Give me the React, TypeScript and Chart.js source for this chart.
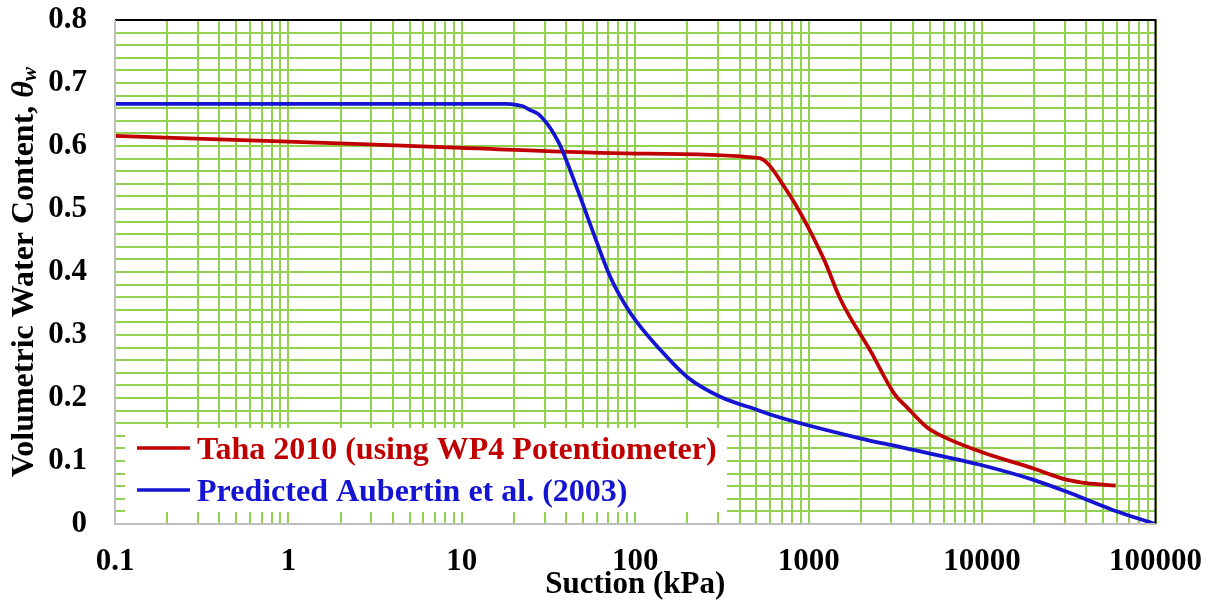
import React, { useEffect, useRef } from 'react';
import { Chart, registerables } from 'chart.js';

Chart.register(...registerables);

// ---- Data ----
const tahaSuction = [0.1, 1, 10, 100, 513, 741, 1216, 1517, 2300, 3150, 3670, 4790, 5730, 9730, 19800, 26900, 31000, 39800, 58900];
const tahaTheta = [0.616, 0.607, 0.597, 0.588, 0.581, 0.531, 0.422, 0.358, 0.272, 0.205, 0.186, 0.154, 0.141, 0.115, 0.088, 0.075, 0.07, 0.065, 0.061];

const aubertinSuction = [0.1, 1, 10, 18, 21, 22.5, 24.8, 27.5, 31.1, 34, 37, 47, 56.5, 71.8, 93.7, 140, 200, 309, 507, 684, 1977, 3390, 9730, 19800, 30800, 57100, 100000];
const aubertinTheta = [0.667, 0.667, 0.667, 0.667, 0.665, 0.663, 0.657, 0.651, 0.635, 0.619, 0.6, 0.527, 0.467, 0.392, 0.335, 0.276, 0.233, 0.202, 0.181, 0.169, 0.136, 0.122, 0.094, 0.07, 0.051, 0.022, 0];

const xMajorTicks = [0.1, 1, 10, 100, 1000, 10000, 100000];
const xTickLabels = ['0.1', '1', '10', '100', '1000', '10000', '100000'];
const xMinorMultipliers = [2, 3, 4, 5, 6, 7, 8, 9];

const yMajorTicks = [0, 0.1, 0.2, 0.3, 0.4, 0.5, 0.6, 0.7, 0.8];
const yTickLabels = ['0', '0.1', '0.2', '0.3', '0.4', '0.5', '0.6', '0.7', '0.8'];
const yMinorPerMajor = 5;

const seriesNames = ['Taha 2010 (using WP4 Potentiometer)', 'Predicted Aubertin et al. (2003)'];
const xTitle = 'Suction (kPa)';
const yTitleMain = 'Volumetric Water Content, ';
const yTitleSymbol = 'θ';
const yTitleSub = 'w';

// ---- Styles ----
const RED = '#C00000';
const BLUE = '#1414D2';
const GRID = '#92D050';
const FONT = '"Liberation Serif", "Times New Roman", serif';

const xGridValues: number[] = [];
xMajorTicks.forEach((m, i) => {
  xGridValues.push(m);
  if (i < xMajorTicks.length - 1) xMinorMultipliers.forEach((k) => xGridValues.push(+(m * k).toPrecision(6)));
});
const yGridValues: number[] = [];
yMajorTicks.forEach((m, i) => {
  yGridValues.push(m);
  if (i < yMajorTicks.length - 1) {
    const step = (yMajorTicks[i + 1] - m) / yMinorPerMajor;
    for (let k = 1; k < yMinorPerMajor; k++) yGridValues.push(+(m + k * step).toFixed(4));
  }
});

const decorPlugin = {
  id: 'decor',
  afterDatasetsDraw(chart: any) {
    const ctx = chart.ctx as CanvasRenderingContext2D;
    // legend box
    ctx.save();
    ctx.fillStyle = '#ffffff';
    ctx.fillRect(125, 428, 602, 84);
    const rows = [
      { y: 448, color: RED, text: seriesNames[0] },
      { y: 490, color: BLUE, text: seriesNames[1] },
    ];
    ctx.font = `bold 32px ${FONT}`;
    ctx.textBaseline = 'alphabetic';
    ctx.textAlign = 'left';
    rows.forEach((r) => {
      ctx.strokeStyle = r.color;
      ctx.lineWidth = 3.5;
      ctx.beginPath();
      ctx.moveTo(137, r.y);
      ctx.lineTo(190, r.y);
      ctx.stroke();
      ctx.fillStyle = r.color;
      ctx.fillText(r.text, 197, r.y + 11);
    });
    ctx.restore();
  },
  afterDraw(chart: any) {
    const ctx = chart.ctx as CanvasRenderingContext2D;
    const a = chart.chartArea;
    ctx.save();
    // borders
    ctx.lineWidth = 2;
    ctx.strokeStyle = '#000000';
    ctx.beginPath();
    ctx.moveTo(a.left, a.top);
    ctx.lineTo(a.right, a.top);
    ctx.lineTo(a.right, a.bottom);
    ctx.stroke();
    ctx.strokeStyle = '#BFBFBF';
    ctx.beginPath();
    ctx.moveTo(a.left, a.top);
    ctx.lineTo(a.left, a.bottom);
    ctx.lineTo(a.right, a.bottom);
    ctx.stroke();

    // x title
    ctx.fillStyle = '#000000';
    ctx.font = `bold 31px ${FONT}`;
    ctx.textAlign = 'center';
    ctx.textBaseline = 'alphabetic';
    ctx.fillText(xTitle, (a.left + a.right) / 2, 593);

    // y title (rotated)
    ctx.translate(33, (a.top + a.bottom) / 2);
    ctx.rotate(-Math.PI / 2);
    ctx.textAlign = 'left';
    ctx.font = `bold 32px ${FONT}`;
    const w1 = ctx.measureText(yTitleMain).width;
    ctx.font = `italic bold 32px ${FONT}`;
    const w2 = ctx.measureText(yTitleSymbol).width;
    ctx.font = `italic bold 21px ${FONT}`;
    const w3 = ctx.measureText(yTitleSub).width;
    let x = -(w1 + w2 + w3) / 2;
    ctx.font = `bold 32px ${FONT}`;
    ctx.fillText(yTitleMain, x, 0);
    x += w1;
    ctx.font = `italic bold 32px ${FONT}`;
    ctx.fillText(yTitleSymbol, x, 0);
    x += w2;
    ctx.font = `italic bold 21px ${FONT}`;
    ctx.fillText(yTitleSub, x, 3);
    ctx.restore();
  },
};

export default function App() {
  const ref = useRef<HTMLCanvasElement>(null);
  useEffect(() => {
    document.body.style.margin = '0';
    const toPoints = (xs: number[], ys: number[]) => xs.map((x, i) => ({ x, y: ys[i] }));
    const chart = new Chart(ref.current as HTMLCanvasElement, {
      type: 'scatter',
      data: {
        datasets: [
          {
            label: seriesNames[1],
            data: toPoints(aubertinSuction, aubertinTheta),
            showLine: true,
            borderColor: BLUE,
            backgroundColor: BLUE,
            borderWidth: 3.75,
            pointRadius: 0,
            cubicInterpolationMode: 'monotone',
          },
          {
            label: seriesNames[0],
            data: toPoints(tahaSuction, tahaTheta),
            showLine: true,
            borderColor: RED,
            backgroundColor: RED,
            borderWidth: 3.75,
            pointRadius: 0,
            cubicInterpolationMode: 'monotone',
          },
        ],
      },
      options: {
        animation: false,
        responsive: false,
        devicePixelRatio: 1,
        layout: { padding: { top: 20, right: 57.5, left: 0, bottom: 0 } },
        plugins: { legend: { display: false }, tooltip: { enabled: false } },
        scales: {
          x: {
            type: 'logarithmic',
            min: 0.1,
            max: 100000,
            afterBuildTicks: (scale: any) => {
              scale.ticks = xGridValues.map((v) => ({ value: v }));
            },
            afterFit: (scale: any) => {
              scale.height = 78;
              scale.paddingLeft = 0;
              scale.paddingRight = 0;
            },
            grid: { color: GRID, lineWidth: 2, drawTicks: false },
            border: { display: false },
            ticks: {
              autoSkip: false,
              maxRotation: 0,
              padding: 19,
              color: '#000',
              font: { family: FONT, size: 31, weight: 'bold' },
              callback: (v: any) => {
                const idx = xMajorTicks.findIndex((m) => Math.abs(Math.log10(m) - Math.log10(Number(v))) < 1e-6);
                return idx >= 0 ? xTickLabels[idx] : '';
              },
            },
          },
          y: {
            type: 'linear',
            min: 0,
            max: 0.8,
            afterBuildTicks: (scale: any) => {
              scale.ticks = yGridValues.map((v) => ({ value: v }));
            },
            afterFit: (scale: any) => {
              scale.width = 115;
              scale.paddingTop = 0;
              scale.paddingBottom = 0;
            },
            grid: { color: GRID, lineWidth: 2, drawTicks: false },
            border: { display: false },
            ticks: {
              autoSkip: false,
              padding: 28,
              color: '#000',
              font: { family: FONT, size: 31, weight: 'bold' },
              callback: (v: any) => {
                const idx = yMajorTicks.findIndex((m) => Math.abs(m - Number(v)) < 1e-6);
                return idx >= 0 ? yTickLabels[idx] : '';
              },
            },
          },
        },
      },
      plugins: [decorPlugin],
    } as any);
    return () => chart.destroy();
  }, []);
  return (
    <div style={{ width: 1213, height: 602, overflow: 'hidden' }}>
      <canvas ref={ref} width={1213} height={602} style={{ display: 'block' }} />
    </div>
  );
}
